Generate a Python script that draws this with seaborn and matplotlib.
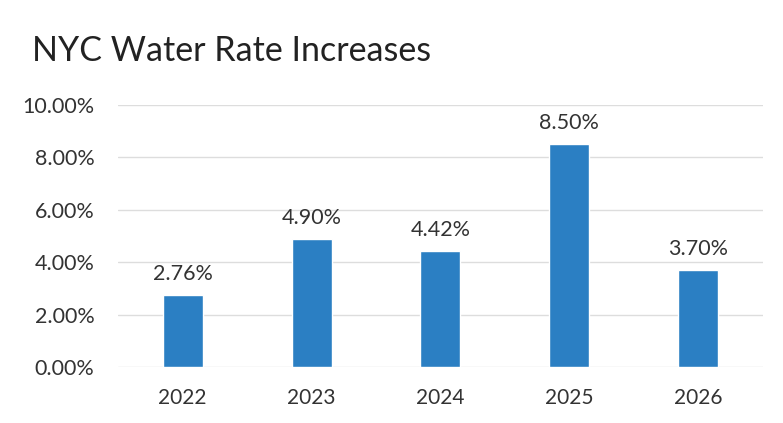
import matplotlib
matplotlib.use("Agg")
import matplotlib.pyplot as plt
import seaborn as sns
import pandas as pd
from matplotlib.ticker import FuncFormatter

years = ["2022", "2023", "2024", "2025", "2026"]
rates = [2.76, 4.90, 4.42, 8.50, 3.70]
y_ticks = [0, 2, 4, 6, 8, 10]

sns.set_theme(style="white")
plt.rcParams['font.family'] = ['Lato', 'DejaVu Sans']

df = pd.DataFrame({"year": years, "rate": rates})

fig = plt.figure(figsize=(7.83, 4.23), dpi=100)
ax = fig.add_axes([0.151, 0.132, 0.823, 0.620])
sns.barplot(data=df, x="year", y="rate", color="#2B7FC3", width=0.31,
            saturation=1, ax=ax, zorder=3)

ax.set_ylim(0, 10)
ax.set_xlim(-0.5, 4.5)
ax.set_yticks(y_ticks)
ax.yaxis.set_major_formatter(FuncFormatter(lambda v, p: f"{v:.2f}%"))
ax.grid(axis="y", color="#DDDDDD", linewidth=1, zorder=0)
ax.grid(axis="x", visible=False)
for s in ax.spines.values():
    s.set_visible(False)
ax.tick_params(axis="y", length=0, pad=17, labelsize=15.5, labelcolor="#333333")
ax.tick_params(axis="x", length=0, pad=15, labelsize=15, labelcolor="#333333")
ax.set_xlabel("")
ax.set_ylabel("")

for cont in ax.containers:
    ax.bar_label(cont, labels=[f"{v:.2f}%" for v in rates], padding=8,
                 fontsize=15.5, color="#333333")

fig.text(0.041, 0.88, "NYC Water Rate Increases", fontsize=24.5, color="#222222",
         ha="left", va="center")

fig.savefig("out.png", dpi=100, facecolor="white")
